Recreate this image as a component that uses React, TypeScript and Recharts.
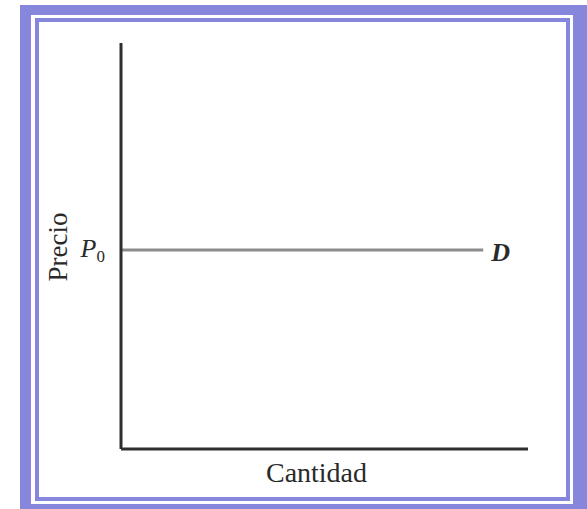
import { Label, LabelList, Line, LineChart, XAxis, YAxis } from 'recharts'

// Curva de demanda perfectamente elástica: precio constante P0
const cantidad = [0, 89]
const precio = [49, 49]
const etiquetas = ['', 'D']
const precioTicks = [49]

const data = cantidad.map((q, i) => ({ q, p: precio[i], tag: etiquetas[i] }))

const PURPLE = '#8686dc'
const AXIS = '#2e2e2e'
const INK = '#2a2a2a'
const SERIF = '"Liberation Serif", "DejaVu Serif", serif'

const PTick = (props: any) => {
  const { x, y } = props
  return (
    <text x={x - 8} y={y + 7} textAnchor="end" fontFamily={SERIF} fill={INK}>
      <tspan fontSize={26} fontStyle="italic">P</tspan>
      <tspan fontSize={17} dy={5}>0</tspan>
    </text>
  )
}

export default function App() {
  return (
    <div style={{ position: 'absolute', left: 0, top: 0, width: 587, height: 509, background: '#fff', overflow: 'hidden' }}>
      {/* marco doble */}
      <div style={{ position: 'absolute', left: 20, top: 5, width: 567, height: 504, background: PURPLE }} />
      <div style={{ position: 'absolute', left: 31, top: 15, width: 542, height: 489, background: '#fff' }} />
      <div
        style={{
          position: 'absolute', left: 35, top: 18, width: 535, height: 483,
          border: `4px solid ${PURPLE}`, boxSizing: 'border-box', background: '#fff',
        }}
      />

      <div style={{ position: 'absolute', left: 0, top: 0 }}>
        <LineChart width={587} height={509} data={data} margin={{ top: 43, right: 59, left: 0, bottom: 0 }}>
          <XAxis
            dataKey="q"
            type="number"
            domain={[0, 100]}
            height={60}
            tick={false}
            tickLine={false}
            axisLine={{ stroke: AXIS, strokeWidth: 3 }}
          >
            <Label
              content={(p: any) => {
                const vb = p.viewBox
                return (
                  <text x={vb.x + vb.width / 2 - 8} y={482} textAnchor="middle" fontFamily={SERIF} fontSize={28} fill={INK}>
                    Cantidad
                  </text>
                )
              }}
            />
          </XAxis>
          <YAxis
            dataKey="p"
            type="number"
            domain={[0, 100]}
            width={121}
            ticks={precioTicks}
            tick={<PTick />}
            tickLine={false}
            axisLine={{ stroke: AXIS, strokeWidth: 3 }}
          >
            <Label
              content={() => (
                <text
                  x={67}
                  y={247}
                  transform="rotate(-90, 67, 247)"
                  textAnchor="middle"
                  fontFamily={SERIF}
                  fontSize={27}
                  fill={INK}
                >
                  Precio
                </text>
              )}
            />
          </YAxis>
          <Line
            dataKey="p"
            stroke="#8c8c8c"
            strokeWidth={3}
            dot={false}
            isAnimationActive={false}
          >
            <LabelList
              dataKey="tag"
              content={(p: any) =>
                p.value ? (
                  <text
                    x={p.x + 8}
                    y={p.y + 11}
                    fontFamily={SERIF}
                    fontSize={26}
                    fontStyle="italic"
                    fontWeight="bold"
                    fill={INK}
                  >
                    {p.value}
                  </text>
                ) : null
              }
            />
          </Line>
        </LineChart>
      </div>
    </div>
  )
}
